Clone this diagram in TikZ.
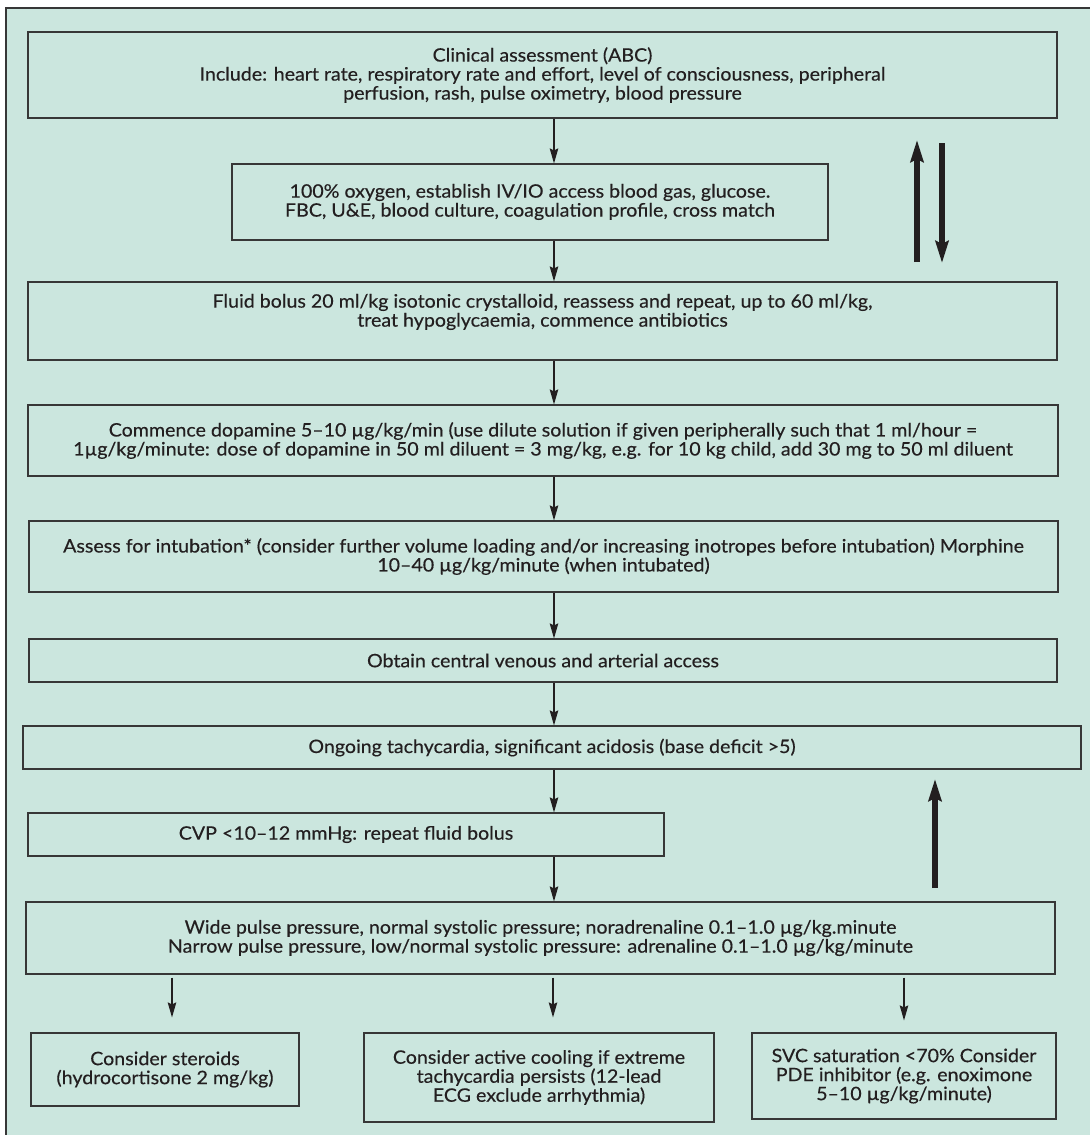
\documentclass[tikz,border=0pt]{standalone}
\usepackage{fontspec}
\setmainfont{Lato}[FakeStretch=1.06,FakeBold=0.35]
\usetikzlibrary{arrows.meta}
\definecolor{bgc}{RGB}{203,230,222}
\definecolor{edgec}{RGB}{55,55,55}
\definecolor{ink}{RGB}{35,31,32}
\begin{document}
\begin{tikzpicture}[x=1pt,y=-1pt,
  font=\fontsize{18.5}{19}\selectfont,
  box/.style={draw=edgec, line width=1.1pt, inner sep=0pt, align=center, text=ink},
  txt/.style={inner sep=0pt, align=center, text=ink},
  arr/.style={draw=ink, line width=1.3pt, -{Stealth[length=15pt,width=8.5pt,inset=2pt]}},
  bigarr/.style={draw=ink, line width=5.5pt, -{Stealth[length=22pt,width=13pt,inset=3pt]}}]
\useasboundingbox (0,0) rectangle (1090,1135);
\fill[white] (0,0) rectangle (1090,1135);
\fill[bgc] (6,8) rectangle (1090,1135);
\draw[edgec, line width=1.1pt] (6,1135) -- (6,8) -- (1090,8);

\node[box, minimum width=1029pt, minimum height=86pt] (b1) at (542.5,75)
 {Clinical assessment (ABC)\\Include: heart rate, respiratory rate and effort, level of consciousness, peripheral\\perfusion, rash, pulse oximetry, blood pressure};
\node[box, minimum width=596pt, minimum height=76pt] (b2) at (530,202)
 {100\% oxygen, establish IV/IO access blood gas, glucose.\\FBC, U\&E, blood culture, coagulation profile, cross match};
\node[box, minimum width=1029pt, minimum height=78pt] (b3) at (542.5,321) {};
\node[txt] (t3) at (542.5,312)
 {Fluid bolus 20 ml/kg isotonic crystalloid, reassess and repeat, up to 60 ml/kg,\\treat hypoglycaemia, commence antibiotics};
\node[box, minimum width=1030pt, minimum height=71pt] (b4) at (543,440.5)
 {Commence dopamine 5–10 µg/kg/min (use dilute solution if given peripherally such that 1 ml/hour =\\1µg/kg/minute: dose of dopamine in 50 ml diluent = 3 mg/kg, e.g. for 10 kg child, add 30 mg to 50 ml diluent};
\node[box, minimum width=1029pt, minimum height=71pt] (b5) at (543.5,556.5)
 {Assess for intubation* (consider further volume loading and/or increasing inotropes before intubation) Morphine\\10–40 µg/kg/minute (when intubated)};
\node[box, minimum width=1028pt, minimum height=43pt] (b6) at (543,660.5)
 {Obtain central venous and arterial access};
\node[box, minimum width=1058pt, minimum height=43pt] (b7) at (552,747.5)
 {Ongoing tachycardia, significant acidosis (base deficit >5)};
\node[box, minimum width=636pt, minimum height=43pt] (b8) at (346,834.5)
 {CVP <10–12 mmHg: repeat fluid bolus};
\node[box, minimum width=1029pt, minimum height=72pt] (b9) at (540.5,938)
 {Wide pulse pressure, normal systolic pressure; noradrenaline 0.1–1.0 µg/kg.minute\\Narrow pulse pressure, low/normal systolic pressure: adrenaline 0.1–1.0 µg/kg/minute};
\node[box, minimum width=268pt, minimum height=73pt] (c1) at (165,1069.5)
 {Consider steroids\\(hydrocortisone 2 mg/kg)};
\node[box, minimum width=350pt, minimum height=89pt] (c2) at (539,1077.5)
 {Consider active cooling if extreme\\tachycardia persists (12-lead\\ECG exclude arrhythmia)};
\node[box, minimum width=304pt, minimum height=86pt] (c3) at (904,1076)
 {SVC saturation <70\% Consider\\PDE inhibitor (e.g. enoximone\\5–10 µg/kg/minute)};

\coordinate (mx) at (554,0);
\draw[arr] (b1.south -| mx) -- (b2.north -| mx);
\draw[arr] (b2.south -| mx) -- (b3.north -| mx);
\draw[arr] (b3.south -| mx) -- (b4.north -| mx);
\draw[arr] (b4.south -| mx) -- (b5.north -| mx);
\draw[arr] (b5.south -| mx) -- (b6.north -| mx);
\draw[arr] (b6.south -| mx) -- (b7.north -| mx);
\draw[arr] (b7.south -| mx) -- (b8.north -| mx);
\draw[arr] (b8.south -| mx) -- (b9.north -| mx);

\coordinate (x1) at (172,0);
\coordinate (x2) at (553,0);
\coordinate (x3) at (904,0);
\draw[arr] ([yshift=-3pt]b9.south -| x1) -- ([yshift=15pt]c1.north -| x1);
\draw[arr] ([yshift=-3pt]b9.south -| x2) -- ([yshift=15pt]c2.north -| x2);
\draw[arr] ([yshift=-3pt]b9.south -| x3) -- ([yshift=12pt]c3.north -| x3);

\coordinate (ua0) at (917,262);
\coordinate (ua1) at (917,140);
\coordinate (da0) at (942,143);
\coordinate (da1) at (942,263);
\coordinate (ub0) at (935,888);
\coordinate (ub1) at (935,779);
\draw[bigarr] (ua0) -- (ua1);
\draw[bigarr] (da0) -- (da1);
\draw[bigarr] (ub0) -- (ub1);
\end{tikzpicture}
\end{document}
